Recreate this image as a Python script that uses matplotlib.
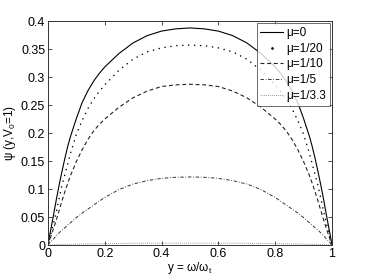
import numpy as np
import matplotlib
matplotlib.use("Agg")
import matplotlib.pyplot as plt
from matplotlib.lines import Line2D

plt.rcParams["font.family"] = ["Liberation Sans", "DejaVu Sans"]
plt.rcParams["mathtext.fontset"] = "custom"
plt.rcParams["mathtext.rm"] = "Liberation Sans"
plt.rcParams["mathtext.it"] = "Liberation Sans"

# left half of each curve (curves are symmetric about y=0.5)
y_half = [0, 0.005, 0.01, 0.02, 0.03, 0.04, 0.05, 0.06, 0.07, 0.08, 0.10,
          0.12, 0.14, 0.16, 0.18, 0.20, 0.25, 0.30, 0.35, 0.40, 0.45, 0.50]
psi_mu0 = [0, 0.015, 0.028, 0.055, 0.083, 0.109, 0.133, 0.156, 0.177, 0.195, 0.226,
           0.254, 0.275, 0.292, 0.306, 0.318, 0.342, 0.361, 0.374, 0.382, 0.386, 0.3876]
psi_mu20 = [0, 0.010, 0.020, 0.040, 0.061, 0.085, 0.108, 0.127, 0.146, 0.165, 0.198,
            0.222, 0.243, 0.260, 0.274, 0.286, 0.312, 0.332, 0.345, 0.352, 0.356, 0.357]
psi_mu10 = [0, 0.007, 0.015, 0.030, 0.046, 0.063, 0.080, 0.096, 0.111, 0.125, 0.149,
            0.170, 0.188, 0.203, 0.215, 0.225, 0.246, 0.263, 0.275, 0.283, 0.286, 0.287]
psi_mu5 = [0, 0.003, 0.006, 0.011, 0.017, 0.022, 0.027, 0.031, 0.036, 0.040, 0.049,
           0.057, 0.064, 0.071, 0.078, 0.085, 0.099, 0.109, 0.115, 0.119, 0.121, 0.1215]
psi_mu33 = [0, 0.0002, 0.0004, 0.0006, 0.0008, 0.0009, 0.0010, 0.0011, 0.0012, 0.0013, 0.0016,
            0.0018, 0.0020, 0.0022, 0.0024, 0.0025, 0.0028, 0.0030, 0.0031, 0.0032, 0.0033, 0.0033]
labels = ["μ=0", "μ=1/20", "μ=1/10", "μ=1/5", "μ=1/3.3"]


def full(half):
    h = np.asarray(half, dtype=float)
    return np.concatenate([h, h[-2::-1]])


y = np.concatenate([np.asarray(y_half), 1 - np.asarray(y_half)[-2::-1]])

fig = plt.figure(figsize=(3.68, 2.76), dpi=100)
ax = fig.add_axes([0.1304, 0.1123, 0.7716, 0.8116])

lw = 0.8
dash = (0, (3.5, 2.5))
dashdot = (0, (3.5, 1.8, 0.8, 1.8))
dots = (0, (0.8, 1.2))
ax.plot(y, full(psi_mu0), color="black", lw=lw)
ax.plot(y, full(psi_mu20), color="black", lw=1.1, linestyle=(0, (0.1, 3.8)),
        dash_capstyle="round")
ax.plot(y, full(psi_mu10), color="#222222", lw=lw, linestyle=dash)
ax.plot(y, full(psi_mu5), color="#333333", lw=0.7, linestyle=dashdot)
ax.plot(y, full(psi_mu33), color="#888888", lw=0.7, linestyle=dots)

ax.set_xlim(0, 1)
ax.set_ylim(0, 0.4)
ax.set_xticks([0, 0.2, 0.4, 0.6, 0.8, 1])
ax.set_xticklabels(["0", "0.2", "0.4", "0.6", "0.8", "1"])
ax.set_yticks([0, 0.05, 0.1, 0.15, 0.2, 0.25, 0.3, 0.35, 0.4])
ax.set_yticklabels(["0", "0.05", "0.1", "0.15", "0.2", "0.25", "0.3", "0.35", "0.4"])
ax.tick_params(direction="in", length=3, width=0.5, labelsize=9,
               top=True, right=True, pad=2, colors="black")
for s in ax.spines.values():
    s.set_linewidth(0.7)
    s.set_color("#333333")

ax.set_xlabel(r"y = ω/ω$_\mathregular{t}$", fontsize=8.5, labelpad=0)
ax.set_ylabel(r"ψ (y,V$_\mathregular{0}$=1)", fontsize=8.5, labelpad=2)

handles = [
    Line2D([], [], color="black", lw=lw),
    Line2D([], [], color="black", marker=".", markersize=1.8, linestyle="none"),
    Line2D([], [], color="#222222", lw=lw, linestyle=dash),
    Line2D([], [], color="#333333", lw=0.7, linestyle=dashdot),
    Line2D([], [], color="#888888", lw=0.7, linestyle=dots),
]
leg = ax.legend(handles, labels, loc="upper right", fontsize=8.5, frameon=True,
                fancybox=False, edgecolor="#444444", borderpad=0.3,
                labelspacing=0.32, handlelength=1.9, handletextpad=0.3,
                borderaxespad=0.2)
leg.get_frame().set_linewidth(0.7)

fig.savefig("out.png", dpi=100)
